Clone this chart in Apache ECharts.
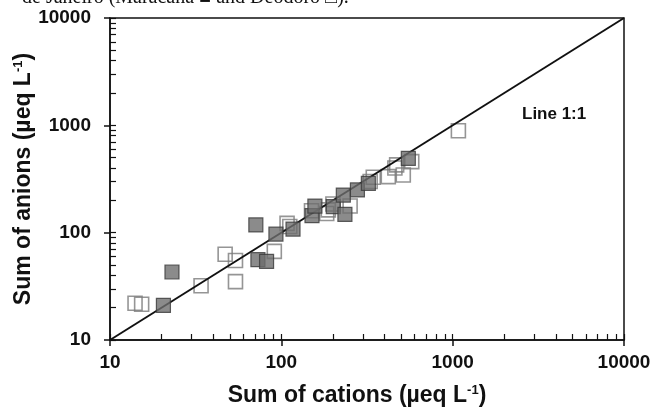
<!DOCTYPE html>
<html>
<head>
<meta charset="utf-8">
<script src="https://cdn.jsdelivr.net/npm/echarts@6/dist/echarts.min.js"></script>
<style>
  html, body { margin: 0; padding: 0; background: #fff; }
  #chart { width: 653px; height: 409px; }
</style>
</head>
<body>
<div id="chart"></div>
<script>
// Maracanã (filled squares): [sum of cations, sum of anions] in µeq/L
const maracana = [
    [20.5, 21], [23, 43], [71, 118], [73, 56], [82, 54], [93, 97],
    [117, 108], [151, 144], [157, 177], [201, 175], [235, 148],
    [230, 224], [278, 250], [322, 288], [551, 493]
];
// Deodoro (open squares)
const deodoro = [
    [14, 22], [15.3, 21.5], [34, 32], [47, 63], [54, 55], [54, 35],
    [91, 67], [108, 122], [112, 114], [150, 160], [184, 151], [188, 163],
    [200, 185], [252, 177], [330, 300], [344, 328], [421, 333], [460, 400],
    [471, 428], [515, 345], [577, 459], [1080, 890]
];
const oneToOne = [[10, 10], [10000, 10000]];
// tick positions: decades plus 2..9 within each decade
const tickValues = [10, 20, 30, 40, 50, 60, 70, 80, 90, 100, 200, 300, 400, 500, 600, 700, 800, 900,
    1000, 2000, 3000, 4000, 5000, 6000, 7000, 8000, 9000, 10000];

const chart = echarts.init(document.getElementById('chart'));
const font = 'Liberation Sans, Arial, sans-serif';
const logTicks = tickValues.map(v => Math.log10(v));

const labelStyle = { color: '#111', fontFamily: font, fontWeight: 'bold', fontSize: 19 };
const titleRich = {
    a: { ...labelStyle, fontSize: 23 },
    s: { ...labelStyle, fontSize: 13, padding: [0, 0, 11, 0] }
};

chart.setOption({
    animation: false,
    grid: {
        left: 110, right: 29, top: 18, bottom: 69,
        outerBoundsMode: 'none', containLabel: false,
        show: true, borderColor: '#111', borderWidth: 1.5, backgroundColor: 'transparent'
    },
    graphic: [{
        type: 'text', left: 22, top: -12,
        style: { text: 'de Janeiro (Maracanã \u25A0 and Deodoro \u25A1).', font: '20px "Liberation Serif", serif', fill: '#111' }
    }, {
        type: 'text', left: 522, top: 106,
        style: { text: 'Line 1:1', font: 'bold 17px "Liberation Sans", Arial, sans-serif', fill: '#111' }
    }],
    xAxis: [{
        type: 'log', logBase: 10, min: 10, max: 10000,
        name: '{a|Sum of cations (µeq L}{s|-1}{a|)}',
        nameLocation: 'middle', nameGap: 44, nameMoveOverlap: false,
        nameTextStyle: { rich: titleRich, padding: [0, 20, 0, 0] },
        axisLine: { lineStyle: { color: '#111', width: 1.5 } },
        axisTick: { inside: false, length: 6, lineStyle: { color: '#111', width: 1.5 } },
        axisLabel: { ...labelStyle, margin: 13, formatter: v => String(v) },
        splitLine: { show: false }
    }, {
        // helper axis in log10 space, only draws the inside tick marks
        type: 'value', min: 1, max: 4, position: 'bottom',
        axisLine: { show: false },
        axisTick: { inside: true, length: 6, customValues: logTicks, lineStyle: { color: '#111', width: 1.2 } },
        axisLabel: { show: false },
        splitLine: { show: false }
    }],
    yAxis: [{
        type: 'log', logBase: 10, min: 10, max: 10000,
        name: '{a|Sum of anions (µeq L}{s|-1}{a|)}',
        nameLocation: 'middle', nameGap: 74, nameRotate: 90, nameMoveOverlap: false,
        nameTextStyle: { rich: titleRich },
        axisLine: { lineStyle: { color: '#111', width: 1.5 } },
        axisTick: { inside: false, length: 6, lineStyle: { color: '#111', width: 1.5 } },
        axisLabel: { ...labelStyle, margin: 19, formatter: v => String(v) },
        splitLine: { show: false }
    }, {
        type: 'value', min: 1, max: 4, position: 'left',
        axisLine: { show: false },
        axisTick: { inside: true, length: 6, customValues: logTicks, lineStyle: { color: '#111', width: 1.2 } },
        axisLabel: { show: false },
        splitLine: { show: false }
    }],
    series: [{
        name: 'Deodoro',
        type: 'scatter', xAxisIndex: 0, yAxisIndex: 0,
        symbol: 'rect', symbolSize: 14,
        itemStyle: { color: 'rgba(255,255,255,0)', borderColor: '#7a7a7a', borderWidth: 1.6 },
        data: deodoro, z: 2
    }, {
        name: '1:1',
        type: 'line', xAxisIndex: 0, yAxisIndex: 0,
        showSymbol: false, symbol: 'none',
        lineStyle: { color: '#111', width: 2 },
        data: oneToOne, z: 3
    }, {
        name: 'Maracanã',
        type: 'scatter', xAxisIndex: 0, yAxisIndex: 0,
        symbol: 'rect', symbolSize: 14,
        itemStyle: { color: '#6e6e6e', borderColor: '#3a3a3a', borderWidth: 1.2 },
        data: maracana, z: 4
    }]
});
</script>
</body>
</html>
